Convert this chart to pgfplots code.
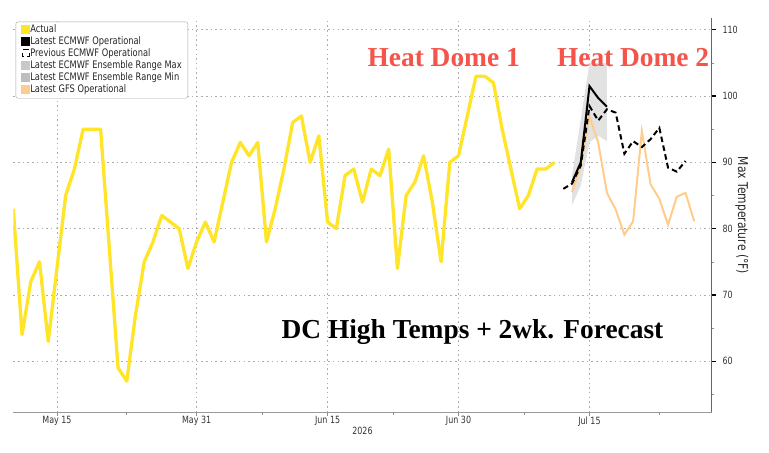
\documentclass[border=0pt]{standalone}
\usepackage{fontspec}
\usepackage{pgfplots}
\pgfplotsset{compat=1.18}
\usepgfplotslibrary{fillbetween}
\setmainfont{Liberation Serif}
\newfontfamily\bbfont{DejaVu Sans}[FakeStretch=0.8]
\definecolor{actualc}{RGB}{255,228,40}
\definecolor{gfsc}{RGB}{255,204,140}
\definecolor{bandc}{RGB}{226,226,226}
\definecolor{redt}{RGB}{244,84,74}
\definecolor{gridc}{RGB}{172,172,172}
\definecolor{legmax}{RGB}{200,200,200}
\definecolor{legmin}{RGB}{190,190,190}

\pgfplotstableread{
day val
9 83
10 64
11 72
12 75
13 63
14 74
15 85
16 89
17 95
18 95
19 95
20 77
21 59
22 57
23 67
24 75
25 78
26 82
27 81
28 80
29 74
30 78
31 81
32 78
33 84
34 90
35 93
36 91
37 93
38 78
39 83
40 89
41 96
42 97
43 90
44 94
45 81
46 80
47 88
48 89
49 84
50 89
51 88
52 92
53 74
54 85
55 87
56 91
57 84
58 75
59 90
60 91
61 97
62 103
63 103
64 102
65 95
66 89
67 83
68 85
69 89
70 89
71 90
}\actual

\pgfplotstableread{
day val
73 87
74 90
75 101.5
76 99.7
77 98.4
}\latest

\pgfplotstableread{
day val
72 86
73 86.8
74 89.5
75 98.5
76 96.3
77 98
78 97.5
79 91.3
80 93.2
81 92.3
82 93.5
83 95.2
84 89.2
85 88.6
86 90.2
}\previous

\pgfplotstableread{
day val
73 85.5
74 89.5
75 96.9
76 93
77 85.4
78 82.9
79 79.1
80 81.1
81 94.7
82 86.7
83 84.5
84 80.6
85 84.8
86 85.4
87 81.1
}\gfs

\pgfplotstableread{
day val
73 88
74 96.5
75 105
76 105
77 105
}\ensmax

\pgfplotstableread{
day val
73 83.5
74 86.5
75 93
76 94
77 93.2
}\ensmin

\begin{document}
\begin{tikzpicture}
\begin{axis}[
  at={(0,0)}, anchor=south west,
  scale only axis, width=698.4bp, height=393.8bp,
  xmin=9, xmax=89, ymin=52.3, ymax=111.7,
  axis x line=bottom, axis y line=right,
  axis line style={-},
  x axis line style={draw=black!40, line width=1.5bp},
  y axis line style={draw=black!60, line width=0.8bp},
  xtick={14,30,45,60,75},
  xticklabels={May 15,May 31,Jun 15,Jun 30,Jul 15},
  minor xtick={22,37.5,52.5,67.5,83},
  ytick={60,70,...,110},
  minor ytick={55,65,...,105},
  tick align=outside,
  major tick length=4bp, minor tick length=2.5bp,
  every major x tick/.append style={draw=black!45, line width=0.8bp},
  every minor x tick/.append style={draw=black!45, line width=0.8bp},
  every major y tick/.append style={draw=black, line width=1.4bp},
  every minor y tick/.append style={draw=black!45, line width=0.6bp},
  xmajorgrids=true, ymajorgrids=true,
  major grid style={draw=gridc, line width=0.9bp, dash pattern=on 1.5bp off 3.2bp},
  /pgf/number format/assume math mode=true,
  xticklabel style={font=\bbfont\fontsize{10}{11}\selectfont, text=black!80, inner sep=0bp},
  yticklabel style={font=\bbfont\fontsize{10}{11}\selectfont, text=black!80, inner sep=0bp, xshift=6.6bp},
  xlabel={2026},
  every axis x label/.style={at={(axis description cs:0.5,0)}, anchor=center, yshift=-18.4bp, font=\bbfont\fontsize{10}{11}\selectfont, text=black!80},
  ylabel={Max Temperature (°F)},
  every axis y label/.style={at={(axis description cs:1.043,0.5)}, anchor=center, rotate=-90, font=\bbfont\fontsize{13.5}{14}\selectfont, text=black!85},
  legend style={at={(axis description cs:0.0034,0.992)}, anchor=north west,
    draw=black!35, rounded corners=2bp, fill=white,
    font=\bbfont\fontsize{10.4}{11}\selectfont, text=black!85,
    inner xsep=5.5bp, inner ysep=3.2bp, row sep=1.4bp,
    nodes={inner sep=0.6bp, text height=7.3bp, text depth=2bp},
    /tikz/every even column/.append style={column sep=1.5bp}},
  legend cell align=left,
]
\addlegendimage{legend image code/.code={\fill[actualc, sharp corners] (0bp,-3.2bp) rectangle (8bp,4.8bp);}}
\addlegendentry{Actual}
\addlegendimage{legend image code/.code={\fill[black, sharp corners] (0bp,-3.2bp) rectangle (8bp,4.8bp);}}
\addlegendentry{Latest ECMWF Operational}
\addlegendimage{legend image code/.code={
  \draw[black, sharp corners, line width=0.6bp] (1bp,4.6bp)--(7bp,4.6bp);
  \draw[black, sharp corners, line width=0.6bp] (0.6bp,1bp)--(0.6bp,-2.6bp)--(2.2bp,-2.6bp);
  \draw[black, sharp corners, line width=0.6bp] (7.4bp,1bp)--(7.4bp,-2.6bp)--(5.8bp,-2.6bp);}}
\addlegendentry{Previous ECMWF Operational}
\addlegendimage{legend image code/.code={\fill[legmax, sharp corners] (0bp,-3.2bp) rectangle (8bp,4.8bp);}}
\addlegendentry{Latest ECMWF Ensemble Range Max}
\addlegendimage{legend image code/.code={\fill[legmin, sharp corners] (0bp,-3.2bp) rectangle (8bp,4.8bp);}}
\addlegendentry{Latest ECMWF Ensemble Range Min}
\addlegendimage{legend image code/.code={\fill[gfsc, sharp corners] (0bp,-3.2bp) rectangle (8bp,4.8bp);}}
\addlegendentry{Latest GFS Operational}

\addplot[draw=none, name path=emax, forget plot] table[x=day,y=val] {\ensmax};
\addplot[draw=none, name path=emin, forget plot] table[x=day,y=val] {\ensmin};
\addplot[fill=bandc, draw=none, forget plot] fill between[of=emax and emin];

\addplot[gfsc, line width=2bp, forget plot] table[x=day,y=val] {\gfs};
\addplot[black, line width=2bp, dash pattern=on 5.5bp off 3.5bp, forget plot] table[x=day,y=val] {\previous};
\addplot[black, line width=2bp, forget plot] table[x=day,y=val] {\latest};
\addplot[actualc, line width=3.3bp, line join=round, forget plot] table[x=day,y=val] {\actual};

\node[font=\bfseries\fontsize{27.5}{30}\selectfont, text=redt, anchor=base] at (axis cs:58.3,104.5) {Heat Dome 1};
\node[font=\bfseries\fontsize{27.5}{30}\selectfont, text=redt, anchor=base] at (axis cs:80,104.5) {Heat Dome 2};
\node[font=\bfseries\fontsize{27.5}{30}\selectfont, text=black, anchor=base] at (axis cs:61.6,63.4) {DC High Temps + 2wk. Forecast};
\end{axis}
\pgfresetboundingbox
\path[use as bounding box] (-13.3bp,-40.7bp) rectangle (755.7bp,412.3bp);
\end{tikzpicture}
\end{document}
